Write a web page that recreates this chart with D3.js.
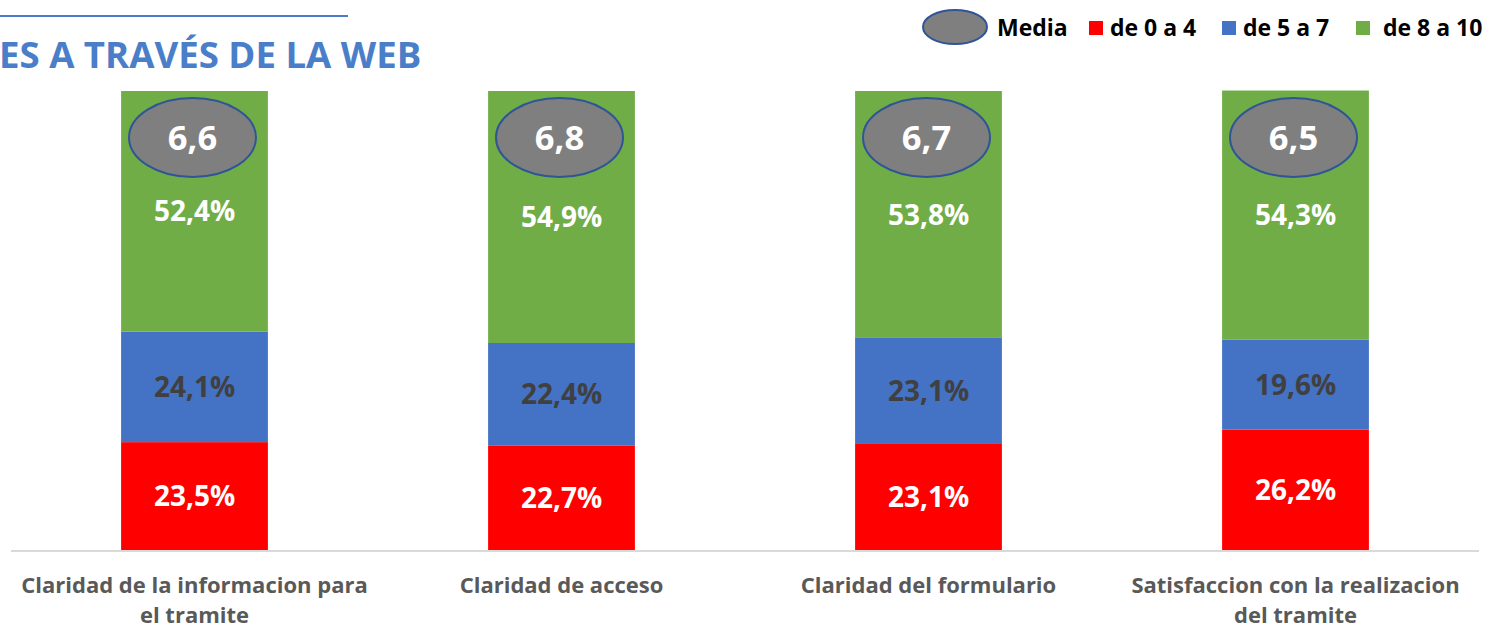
<!DOCTYPE html>
<html>
<head>
<meta charset="utf-8">
<script src="https://cdn.jsdelivr.net/npm/d3@7"></script>
<style>
  html, body { margin: 0; padding: 0; background: #fff; }
  svg { display: block; font-family: 'Open Sans', 'Noto Sans', sans-serif; }
</style>
</head>
<body>
<svg id="chart" width="1485" height="628"></svg>
<script>
/* ── Data ──────────────────────────────────────────────────── */
const categories = [
  ['Claridad de la informacion para', 'el tramite'],
  ['Claridad de acceso'],
  ['Claridad del formulario'],
  ['Satisfaccion con la realizacion', 'del tramite'],
];
const seriesKeys = ['de 0 a 4', 'de 5 a 7', 'de 8 a 10'];
const low  = [23.5, 22.7, 23.1, 26.2];
const mid  = [24.1, 22.4, 23.1, 19.6];
const high = [52.4, 54.9, 53.8, 54.3];
const media = [6.6, 6.8, 6.7, 6.5];

const COLORS = { 'de 0 a 4': '#FF0000', 'de 5 a 7': '#4472C4', 'de 8 a 10': '#70AD47' };
const LABEL_COLORS = { 'de 0 a 4': '#ffffff', 'de 5 a 7': '#404040', 'de 8 a 10': '#ffffff' };

const fmt = v => v.toFixed(1).replace('.', ',');

const rows = categories.map((c, i) => ({
  cat: c.join(' '),
  'de 0 a 4': low[i], 'de 5 a 7': mid[i], 'de 8 a 10': high[i],
  media: media[i],
}));

/* ── Setup ─────────────────────────────────────────────────── */
const svg = d3.select('#chart');

const x = d3.scaleBand()
  .domain(rows.map(d => d.cat))
  .range([11, 1479])
  .paddingInner(0.6)
  .paddingOuter(0.3);

const y = d3.scaleLinear().domain([0, 100]).range([550, 91]);

const stack = d3.stack().keys(seriesKeys)(rows);

/* ── Title ─────────────────────────────────────────────────── */
svg.append('line')
  .attr('x1', 0).attr('x2', 348).attr('y1', 16).attr('y2', 16)
  .attr('stroke', '#4A7CC9').attr('stroke-width', 2);

svg.append('text')
  .attr('x', -1).attr('y', 68)
  .attr('fill', '#4A7EC9')
  .attr('font-size', 36.6).attr('font-weight', 700)
  .text('ES A TRAVÉS DE LA WEB');

/* ── Bars ──────────────────────────────────────────────────── */
const layers = svg.append('g').selectAll('g')
  .data(stack).join('g')
  .attr('fill', d => COLORS[d.key]);

layers.selectAll('rect')
  .data(d => d.map(p => Object.assign(p, { key: d.key })))
  .join('rect')
  .attr('x', d => x(d.data.cat))
  .attr('width', x.bandwidth())
  .attr('y', d => y(d[1]))
  .attr('height', d => y(d[0]) - y(d[1]));

layers.selectAll('text')
  .data(d => d)
  .join('text')
  .attr('x', d => x(d.data.cat) + x.bandwidth() / 2)
  .attr('y', d => (y(d[0]) + y(d[1])) / 2)
  .attr('dy', '0.36em')
  .attr('text-anchor', 'middle')
  .attr('font-size', 28).attr('font-weight', 700)
  .attr('fill', d => LABEL_COLORS[d.key])
  .text(d => fmt(d.data[d.key]) + '%');

/* ── Media ellipses ────────────────────────────────────────── */
const medG = svg.append('g').selectAll('g')
  .data(rows).join('g')
  .attr('transform', d => `translate(${x(d.cat) + x.bandwidth() / 2 - 2},137.5)`);

medG.append('ellipse')
  .attr('rx', 63.5).attr('ry', 39.5)
  .attr('fill', '#7F7F7F')
  .attr('stroke', '#2F5597').attr('stroke-width', 2);

medG.append('text')
  .attr('dy', '0.36em')
  .attr('text-anchor', 'middle')
  .attr('font-size', 34.5).attr('font-weight', 700)
  .attr('fill', '#fff')
  .text(d => fmt(d.media));

/* ── Axis ──────────────────────────────────────────────────── */
svg.append('line')
  .attr('x1', 11).attr('x2', 1479).attr('y1', 551).attr('y2', 551)
  .attr('stroke', '#D9D9D9').attr('stroke-width', 2);

const catLabels = svg.append('g').selectAll('text')
  .data(categories).join('text')
  .attr('x', (d, i) => x(rows[i].cat) + x.bandwidth() / 2)
  .attr('y', 593)
  .attr('text-anchor', 'middle')
  .attr('font-size', 22).attr('font-weight', 700)
  .attr('fill', '#595959');

catLabels.selectAll('tspan')
  .data(d => d).join('tspan')
  .attr('x', function () { return d3.select(this.parentNode).attr('x'); })
  .attr('dy', (d, i) => i === 0 ? 0 : 30)
  .text(d => d);

/* ── Legend ────────────────────────────────────────────────── */
const legend = svg.append('g');

legend.append('ellipse')
  .attr('cx', 955).attr('cy', 27).attr('rx', 32).attr('ry', 17)
  .attr('fill', '#7F7F7F')
  .attr('stroke', '#2F5597').attr('stroke-width', 2);
legend.append('text')
  .attr('x', 997).attr('y', 36)
  .attr('font-size', 23).attr('font-weight', 700).attr('fill', '#000')
  .text('Media');

const legendPos = [
  { sq: 1089, tx: 1110 },
  { sq: 1222, tx: 1243 },
  { sq: 1356, tx: 1383 },
];
seriesKeys.forEach((k, i) => {
  legend.append('rect')
    .attr('x', legendPos[i].sq).attr('y', 21)
    .attr('width', 14).attr('height', 14)
    .attr('fill', COLORS[k]);
  legend.append('text')
    .attr('x', legendPos[i].tx).attr('y', 36)
    .attr('font-size', 23).attr('font-weight', 700).attr('fill', '#000')
    .text(k);
});
</script>
</body>
</html>
